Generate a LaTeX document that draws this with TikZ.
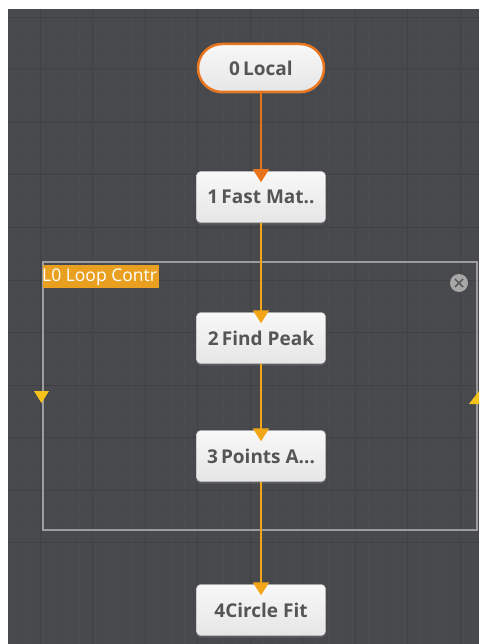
\documentclass[tikz,border=0pt]{standalone}
\usepackage{fontspec}
\setmainfont{Open Sans}
\usetikzlibrary{arrows.meta,shadows}
\definecolor{bgc}{HTML}{48494D}
\definecolor{gridminor}{HTML}{4B4C50}
\definecolor{gridmajor}{HTML}{404145}
\definecolor{nodetxt}{HTML}{555555}
\definecolor{nodetop}{HTML}{F8F8F8}
\definecolor{nodebot}{HTML}{E6E6E6}
\definecolor{startorange}{HTML}{E8761E}
\definecolor{linkorange}{HTML}{E8731A}
\definecolor{linkyellow}{HTML}{F2A516}
\definecolor{labelorange}{HTML}{E9A020}
\definecolor{framegray}{HTML}{9C9C9E}
\definecolor{portyellow}{HTML}{F5C21A}
\definecolor{closegray}{HTML}{A8A8A8}
\definecolor{closex}{HTML}{5A5A5A}
\tikzset{
  stepbox/.style={rectangle, rounded corners=4pt, minimum width=129pt, minimum height=51pt,
    top color=nodetop, bottom color=nodebot, draw=nodebot!80!black, line width=0.5pt,
    text=nodetxt, font=\fontsize{19}{21}\selectfont\bfseries, inner sep=0pt,
    drop shadow={shadow xshift=0pt, shadow yshift=-2pt, opacity=0.35}},
  startbox/.style={stepbox, rounded corners=24pt, minimum width=126pt, minimum height=48pt,
    draw=startorange, line width=2.5pt},
  linkA/.style={draw=linkorange, line width=2pt, -{Triangle[width=16pt,length=13pt]}, color=linkorange},
  linkB/.style={draw=linkyellow, line width=2pt, -{Triangle[width=16pt,length=13pt]}, color=linkyellow},
}
\begin{document}
\begin{tikzpicture}[x=1pt,y=-1pt]
\useasboundingbox (0,0) rectangle (479,644);
\fill[white] (0,0) rectangle (479,644);
\fill[bgc] (8,9) rectangle (479,644);
\begin{scope}
\clip (8,9) rectangle (479,644);
\foreach \i in {-3,...,36} {
  \draw[gridminor, line width=0.8pt] ({40+13.125*\i},9) -- ({40+13.125*\i},644);
  \draw[gridminor, line width=0.8pt] (8,{70+13.125*\i}) -- (479,{70+13.125*\i});
}
\foreach \i in {-1,...,9} {
  \draw[gridmajor, line width=1pt] ({40+52.5*\i},9) -- ({40+52.5*\i},644);
  \draw[gridmajor, line width=1pt] (8,{70+52.5*\i}) -- (479,{70+52.5*\i});
}
\end{scope}
% loop frame
\draw[framegray, line width=1.5pt] (43,262) rectangle (477,530);
\begin{scope}
\clip (43,265) rectangle (159,288);
\fill[labelorange] (43,265) rectangle (159,288);
\node[anchor=west, text=white, font=\fontsize{17.5}{19}\selectfont, inner sep=0pt] (lbl) at (42,277.5) {L0 Loop Contr};
\end{scope}
\node[circle, fill=closegray, minimum size=18pt, inner sep=0pt] (close) at (459,283) {};
\draw[closex, line width=1.6pt] ([shift={(-4pt,-4pt)}]close.center) -- ([shift={(4pt,4pt)}]close.center);
\draw[closex, line width=1.6pt] ([shift={(-4pt,4pt)}]close.center) -- ([shift={(4pt,-4pt)}]close.center);
% ports
\fill[portyellow] (34,391) -- (49,391) -- (41.5,403) -- cycle;
\begin{scope}
\clip (8,9) rectangle (479,644);
\fill[portyellow] (469,404) -- (489,404) -- (479,391) -- cycle;
\end{scope}
% nodes
\node[startbox] (n0) at (261,68) {0\,Local};
\node[stepbox] (n1) at (261,197) {1\,Fast Mat..};
\node[stepbox] (n2) at (261,338) {2\,Find Peak};
\node[stepbox] (n3) at (261,456) {3\,Points A...};
\node[stepbox] (n4) at (261,610) {4Circle Fit};
% links
\draw[linkA] (n0.south) -- ([yshift=-11pt]n1.north);
\draw[linkB] (n1.south) -- ([yshift=-11pt]n2.north);
\draw[linkB] (n2.south) -- ([yshift=-11pt]n3.north);
\draw[linkB] (n3.south) -- ([yshift=-11pt]n4.north);
\end{tikzpicture}
\end{document}
